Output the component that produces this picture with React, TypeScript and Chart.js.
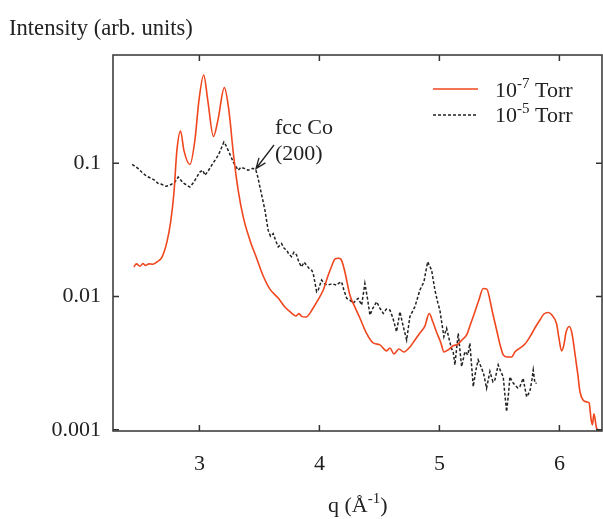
import React, { useEffect, useRef } from "react";
import { Chart, registerables } from "chart.js";

Chart.register(...registerables);

// 10^-7 Torr (red solid)
const qA = [2.454, 2.475, 2.504, 2.53, 2.55, 2.58, 2.612, 2.654, 2.688, 2.727, 2.76, 2.7875, 2.8125, 2.843, 2.871, 2.921, 2.9625, 2.996, 3.036, 3.07, 3.117, 3.154, 3.208, 3.246, 3.282, 3.323, 3.365, 3.421, 3.477, 3.532, 3.5875, 3.657, 3.7125, 3.768, 3.804, 3.83, 3.852, 3.8875, 3.948, 3.9875, 4.032, 4.071, 4.102, 4.129, 4.157, 4.179, 4.2125, 4.254, 4.296, 4.3375, 4.3875, 4.448, 4.504, 4.56, 4.5875, 4.621, 4.6625, 4.704, 4.754, 4.796, 4.8375, 4.879, 4.915, 4.946, 4.979, 5.0125, 5.0375, 5.071, 5.1125, 5.154, 5.1875, 5.227, 5.2625, 5.296, 5.329, 5.365, 5.396, 5.421, 5.442, 5.477, 5.504, 5.532, 5.5625, 5.602, 5.629, 5.671, 5.7125, 5.754, 5.796, 5.8375, 5.871, 5.9067, 5.9375, 5.977, 5.996, 6.018, 6.0375, 6.054, 6.082, 6.104, 6.129, 6.154, 6.171, 6.196, 6.229, 6.248, 6.2625, 6.275, 6.2875, 6.31, 6.3375];
const intensityA = [0.0167, 0.0176, 0.0169, 0.0177, 0.0171, 0.0176, 0.0175, 0.0184, 0.0198, 0.0252, 0.0361, 0.0596, 0.125, 0.175, 0.125, 0.098, 0.149, 0.296, 0.46, 0.296, 0.159, 0.21, 0.37, 0.249, 0.121, 0.0628, 0.0396, 0.0265, 0.0194, 0.01426, 0.01138, 0.00975, 0.00834, 0.00752, 0.00714, 0.00745, 0.0071, 0.00702, 0.0082, 0.00942, 0.0112, 0.01426, 0.0169, 0.0191, 0.0194, 0.0191, 0.0153, 0.01026, 0.00834, 0.0069, 0.00542, 0.00449, 0.00434, 0.00391, 0.00411, 0.00371, 0.00404, 0.00384, 0.00418, 0.00472, 0.00533, 0.00601, 0.00746, 0.00644, 0.00533, 0.00449, 0.00384, 0.00397, 0.00426, 0.0044, 0.00472, 0.00515, 0.00633, 0.0077, 0.00942, 0.0115, 0.01138, 0.00942, 0.00766, 0.00561, 0.0044, 0.00365, 0.00352, 0.00352, 0.00384, 0.00411, 0.0044, 0.00498, 0.00581, 0.00667, 0.0074, 0.00759, 0.00726, 0.00622, 0.00489, 0.00391, 0.00434, 0.00533, 0.00596, 0.00533, 0.00377, 0.00258, 0.00194, 0.00168, 0.00162, 0.00159, 0.00123, 0.00109, 0.00132, 0.00103, 0.000985];

// 10^-5 Torr (black dashed)
const qB = [2.44, 2.49, 2.521, 2.56, 2.596, 2.629, 2.654, 2.685, 2.721, 2.754, 2.796, 2.823, 2.846, 2.865, 2.896, 2.921, 2.946, 2.9625, 3.004, 3.029, 3.046, 3.071, 3.102, 3.129, 3.157, 3.179, 3.204, 3.221, 3.24, 3.2625, 3.282, 3.304, 3.323, 3.346, 3.379, 3.404, 3.421, 3.446, 3.471, 3.4875, 3.504, 3.525, 3.546, 3.573, 3.592, 3.615, 3.6375, 3.657, 3.685, 3.704, 3.727, 3.746, 3.768, 3.7875, 3.81, 3.829, 3.852, 3.871, 3.893, 3.9125, 3.935, 3.948, 3.977, 3.99, 4.018, 4.046, 4.073, 4.104, 4.143, 4.1625, 4.185, 4.204, 4.227, 4.254, 4.282, 4.304, 4.323, 4.352, 4.379, 4.4, 4.421, 4.446, 4.477, 4.504, 4.532, 4.558, 4.5875, 4.6125, 4.643, 4.671, 4.696, 4.727, 4.754, 4.796, 4.8375, 4.871, 4.902, 4.935, 4.9625, 4.9875, 5.004, 5.0375, 5.06, 5.073, 5.1, 5.115, 5.129, 5.157, 5.185, 5.2125, 5.2375, 5.254, 5.282, 5.304, 5.323, 5.352, 5.371, 5.393, 5.421, 5.446, 5.4625, 5.49, 5.5125, 5.532, 5.546, 5.56, 5.575, 5.5875, 5.608, 5.629, 5.654, 5.671, 5.698, 5.7125, 5.727, 5.754, 5.771, 5.782, 5.796, 5.81];
const intensityB = [0.0983, 0.0913, 0.0857, 0.08, 0.0773, 0.0746, 0.0708, 0.0696, 0.0673, 0.0685, 0.0724, 0.0789, 0.0746, 0.0712, 0.0685, 0.0664, 0.0708, 0.0746, 0.0861, 0.0887, 0.0813, 0.0871, 0.0966, 0.1052, 0.1148, 0.1274, 0.1445, 0.1365, 0.125, 0.1128, 0.1022, 0.095, 0.0887, 0.0933, 0.0913, 0.0887, 0.0897, 0.0918, 0.0887, 0.0785, 0.0664, 0.0547, 0.0445, 0.0315, 0.0284, 0.0297, 0.026, 0.0236, 0.025, 0.0231, 0.0223, 0.0208, 0.0199, 0.0215, 0.0205, 0.0181, 0.0167, 0.0181, 0.0172, 0.0163, 0.0158, 0.015, 0.01086, 0.0112, 0.0133, 0.0124, 0.0122, 0.0125, 0.0122, 0.0126, 0.0129, 0.0112, 0.0097, 0.0094, 0.0089, 0.0094, 0.0097, 0.00863, 0.01256, 0.00975, 0.00726, 0.0082, 0.00914, 0.0082, 0.00748, 0.00805, 0.00792, 0.0069, 0.00545, 0.0077, 0.00612, 0.00472, 0.00706, 0.0084, 0.0112, 0.0129, 0.01824, 0.0158, 0.0112, 0.00893, 0.00792, 0.005, 0.00578, 0.00515, 0.00409, 0.00386, 0.00307, 0.0053, 0.00298, 0.00386, 0.00365, 0.00446, 0.00211, 0.00281, 0.00334, 0.0029, 0.00258, 0.00205, 0.00274, 0.00229, 0.00237, 0.00307, 0.00272, 0.0025, 0.00183, 0.00137, 0.00183, 0.0025, 0.00229, 0.00217, 0.00206, 0.00211, 0.00244, 0.00206, 0.00177, 0.00194, 0.00237, 0.00281, 0.00224, 0.00224];

const xTicks = [3, 4, 5, 6];
const xTickLabels = ["3", "4", "5", "6"];
const yTicks = [0.001, 0.01, 0.1];
const yTickLabels = ["0.001", "0.01", "0.1"];

const FONT = "'Liberation Serif', 'DejaVu Serif', serif";
const TXT = "#222";
const RED = "#f0461e";

const overlay = {
  id: "overlay",
  afterDraw(chart: any) {
    const { ctx, chartArea, scales } = chart;
    const { left, right, top, bottom } = chartArea;
    const x = scales.x;
    const y = scales.y;
    ctx.save();
    ctx.strokeStyle = "#333";
    ctx.lineWidth = 1.5;
    ctx.setLineDash([]);
    ctx.strokeRect(left, top, right - left, bottom - top);
    ctx.beginPath();
    for (const v of xTicks) {
      const px = x.getPixelForValue(v);
      ctx.moveTo(px, bottom);
      ctx.lineTo(px, bottom - 6);
      ctx.moveTo(px, top);
      ctx.lineTo(px, top + 6);
    }
    for (const v of yTicks) {
      const py = y.getPixelForValue(v);
      ctx.moveTo(left, py);
      ctx.lineTo(left + 6, py);
      ctx.moveTo(right, py);
      ctx.lineTo(right - 6, py);
    }
    ctx.stroke();

    ctx.fillStyle = TXT;
    ctx.textBaseline = "alphabetic";
    ctx.textAlign = "left";
    ctx.font = `22.6px ${FONT}`;
    ctx.fillText("Intensity (arb. units)", 9, 35);

    const drawSup = (parts: [string, boolean][], x0: number, base: number, size: number) => {
      let cx = x0;
      for (const [t, sup] of parts) {
        ctx.font = `${sup ? Math.round(size * 0.68) : size}px ${FONT}`;
        ctx.fillText(t, cx, sup ? base - size * 0.42 : base);
        cx += ctx.measureText(t).width;
      }
    };
    drawSup([["q (Å", false], ["-1", true], [")", false]], 328, 512, 22);

    // legend
    ctx.lineWidth = 1.5;
    ctx.strokeStyle = RED;
    ctx.beginPath();
    ctx.moveTo(433, 89);
    ctx.lineTo(478, 89);
    ctx.stroke();
    ctx.strokeStyle = "#222";
    ctx.setLineDash([3, 2]);
    ctx.beginPath();
    ctx.moveTo(433, 115);
    ctx.lineTo(478, 115);
    ctx.stroke();
    ctx.setLineDash([]);
    drawSup([["10", false], ["-7", true], [" Torr", false]], 495, 97, 22);
    drawSup([["10", false], ["-5", true], [" Torr", false]], 495, 122, 22);

    // annotation
    ctx.font = `22px ${FONT}`;
    ctx.fillText("fcc Co", 275, 134);
    ctx.fillText("(200)", 275, 160);
    ctx.strokeStyle = "#222";
    ctx.lineWidth = 1.3;
    const x1 = 274, y1 = 145, x2 = 256, y2 = 168.5;
    ctx.beginPath();
    ctx.moveTo(x1, y1);
    ctx.lineTo(x2, y2);
    const ang = Math.atan2(y2 - y1, x2 - x1);
    const hl = 11, ha = 0.38;
    ctx.moveTo(x2 - hl * Math.cos(ang - ha), y2 - hl * Math.sin(ang - ha));
    ctx.lineTo(x2, y2);
    ctx.lineTo(x2 - hl * Math.cos(ang + ha), y2 - hl * Math.sin(ang + ha));
    ctx.stroke();
    ctx.restore();
  },
};

export default function App() {
  const ref = useRef<HTMLCanvasElement | null>(null);
  useEffect(() => {
    if (!ref.current) return;
    const chart = new Chart(ref.current, {
      type: "line",
      data: {
        datasets: [
          {
            label: "10^-7 Torr",
            data: qA.map((q, i) => ({ x: q, y: intensityA[i] })),
            borderColor: RED,
            borderWidth: 1.6,
            pointRadius: 0,
            cubicInterpolationMode: "monotone",
            fill: false,
          },
          {
            label: "10^-5 Torr",
            data: qB.map((q, i) => ({ x: q, y: intensityB[i] })),
            borderColor: "#222",
            borderWidth: 1.5,
            borderDash: [3, 2],
            pointRadius: 0,
            tension: 0,
            fill: false,
          },
        ],
      },
      options: {
        animation: false,
        responsive: true,
        maintainAspectRatio: false,
        layout: { padding: { top: 55, right: 1, left: 0, bottom: 0 } },
        plugins: { legend: { display: false }, tooltip: { enabled: false }, title: { display: false } },
        scales: {
          x: {
            type: "linear",
            min: 2.28,
            max: 6.355,
            afterBuildTicks: (s: any) => {
              s.ticks = xTicks.map((v) => ({ value: v }));
            },
            afterFit: (s: any) => {
              s.height = 88;
            },
            grid: { display: false, drawTicks: false },
            border: { display: false },
            ticks: {
              padding: 20,
              color: TXT,
              font: { family: FONT, size: 22 },
              maxRotation: 0,
              autoSkip: false,
              callback: (v: any) => {
                const i = xTicks.indexOf(Number(v));
                return i >= 0 ? xTickLabels[i] : "";
              },
            },
          },
          y: {
            type: "logarithmic",
            min: 0.00098,
            max: 0.65,
            afterBuildTicks: (s: any) => {
              s.ticks = yTicks.map((v) => ({ value: v }));
            },
            afterFit: (s: any) => {
              s.width = 113;
            },
            grid: { display: false, drawTicks: false },
            border: { display: false },
            ticks: {
              padding: 12,
              color: TXT,
              font: { family: FONT, size: 22 },
              autoSkip: false,
              callback: (v: any) => {
                const i = yTicks.findIndex((t) => Math.abs(t - Number(v)) < 1e-9);
                return i >= 0 ? yTickLabels[i] : "";
              },
            },
          },
        },
      },
      plugins: [overlay],
    });
    return () => chart.destroy();
  }, []);
  return (
    <div style={{ position: "absolute", left: 0, top: 0, width: 603, height: 519, background: "#fff" }}>
      <canvas ref={ref} />
    </div>
  );
}
